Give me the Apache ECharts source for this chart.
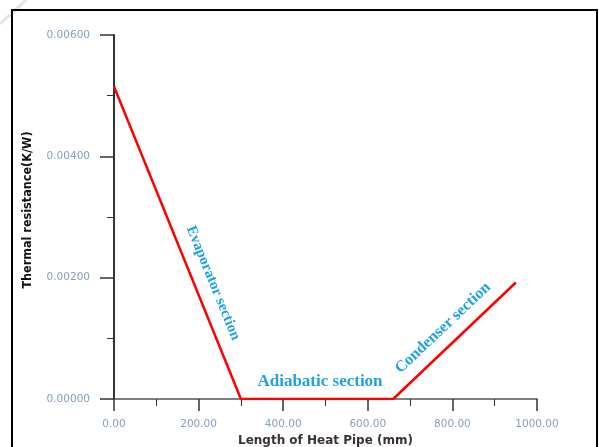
<!DOCTYPE html>
<html><head><meta charset="utf-8">
<script src="https://cdn.jsdelivr.net/npm/echarts@6/dist/echarts.min.js"></script>
<style>html,body{margin:0;padding:0;background:#fff}#c{width:599px;height:447px}</style>
</head><body><div id="c"></div>
<script>
const lengthMM = [0, 300, 660, 950];
const resistance = [0.00515, 0, 0, 0.00192];
const xTicks = [0, 200, 400, 600, 800, 1000];
const yTicks = [0, 0.002, 0.004, 0.006];
const sectionLabels = ['Evaporator section', 'Adiabatic section', 'Condenser section'];
const xTitle = 'Length of Heat Pipe (mm)';
const yTitle = 'Thermal resistance(K/W)';

const chart = echarts.init(document.getElementById('c'));
const labelColor = '#86a0c0';
const annColor = '#1fa3e6';
chart.setOption({
  animation: false,
  grid: {left: 114, top: 35, right: 62, bottom: 48, outerBoundsMode: 'none', containLabel: false},
  xAxis: {
    type: 'value', min: xTicks[0], max: xTicks[xTicks.length-1], interval: 200,
    name: xTitle, nameLocation: 'middle', nameGap: 31,
    nameTextStyle: {fontFamily: '"DejaVu Sans", sans-serif', fontWeight: 'bold', fontSize: 12, color: '#3a3232'},
    axisLine: {show: true, lineStyle: {color: '#555', width: 1.5}},
    axisTick: {show: true, length: 12, lineStyle: {color: '#333', width: 1.5}},
    minorTick: {show: true, splitNumber: 2, length: 7, lineStyle: {color: '#333', width: 1}},
    splitLine: {show: false},
    axisLabel: {margin: 20, fontFamily: '"DejaVu Sans", sans-serif', fontSize: 10.5, color: labelColor,
      formatter: v => v.toFixed(2)}
  },
  yAxis: {
    type: 'value', min: yTicks[0], max: yTicks[yTicks.length-1], interval: 0.002,
    axisLine: {show: true, lineStyle: {color: '#333', width: 2}},
    axisTick: {show: true, length: 14, lineStyle: {color: '#333', width: 1.5}},
    minorTick: {show: true, splitNumber: 2, length: 7, lineStyle: {color: '#333', width: 1}},
    splitLine: {show: false},
    axisLabel: {margin: 24, fontFamily: '"DejaVu Sans", sans-serif', fontSize: 10.5, color: labelColor,
      formatter: v => v.toFixed(5)}
  },
  series: [{
    type: 'line', data: lengthMM.map((x, i) => [x, resistance[i]]),
    symbol: 'none', lineStyle: {color: '#ff0000', width: 2.5}, z: 3
  }],
  graphic: [
    {type: 'line', shape: {x1: 0, y1: 24, x2: 26, y2: 0},
     style: {stroke: '#e4e4e4', lineWidth: 3}, silent: true},
    {type: 'rect', shape: {x: 12, y: 10, width: 585, height: 460},
     style: {fill: 'none', stroke: '#000', lineWidth: 2}, silent: true},
    {type: 'text', x: 28, y: 210, rotation: Math.PI / 2,
     style: {text: yTitle, fill: '#111', font: 'bold 12.5px "DejaVu Sans Condensed", "Liberation Sans", sans-serif', align: 'center', verticalAlign: 'middle'}},
    {type: 'text', x: 213, y: 283, rotation: -67.9 * Math.PI / 180,
     style: {text: sectionLabels[0], fill: annColor, font: 'bold 15px "Liberation Serif"', align: 'center', verticalAlign: 'middle'}},
    {type: 'text', x: 320, y: 382,
     style: {text: sectionLabels[1], fill: annColor, font: 'bold 17px "Liberation Serif"', align: 'center', verticalAlign: 'middle'}},
    {type: 'text', x: 443, y: 328, rotation: 43.3 * Math.PI / 180,
     style: {text: sectionLabels[2], fill: annColor, font: 'bold 16px "Liberation Serif"', align: 'center', verticalAlign: 'middle'}}
  ]
});
</script></body></html>
